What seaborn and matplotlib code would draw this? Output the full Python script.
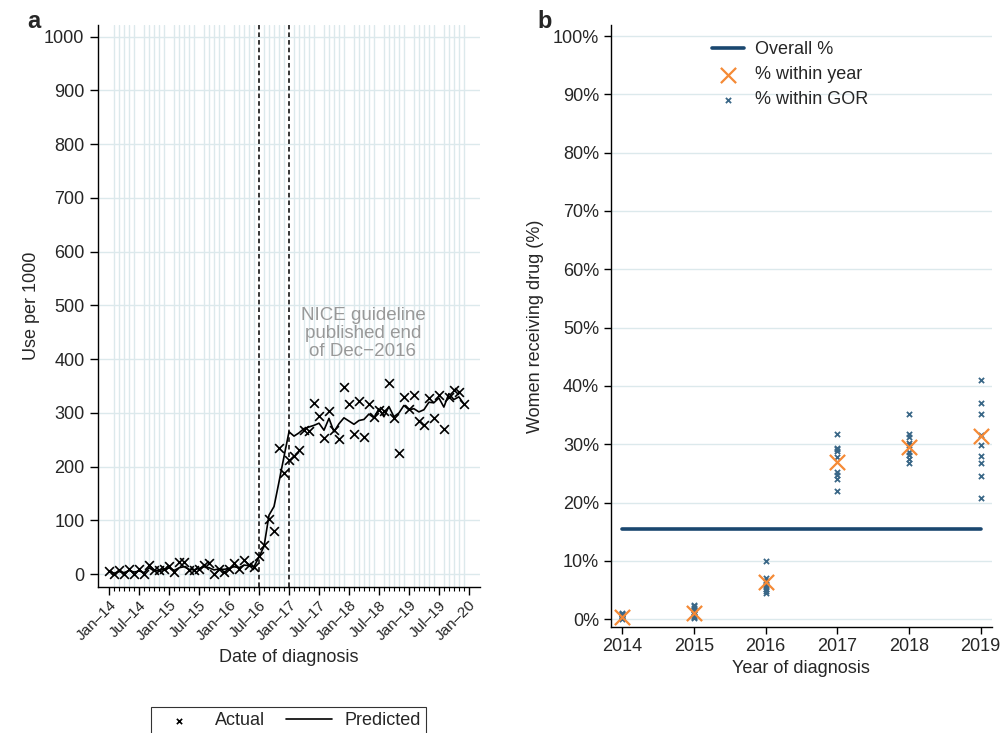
import numpy as np
import pandas as pd
import matplotlib
matplotlib.use("Agg")
import matplotlib.pyplot as plt
from matplotlib.ticker import MultipleLocator, FixedLocator
import seaborn as sns

# ---------------- data: panel a (monthly, Jan-14 .. Dec-19) ----------------
actual = [6, 0, 7, 0, 10, 1, 9, 0, 17, 7, 7, 10, 16, 4, 22, 22, 7, 7, 10, 18,
          21, 0, 10, 4, 10, 20, 9, 26, 18, 14,
          33, 55, 102, 81, 234, 189, 213, 220, 232, 269, 267, 318, 294, 254,
          304, 269, 252, 349, 317, 260, 322, 256, 317, 293, 306, 304, 356,
          290, 226, 330, 308, 333, 285, 277, 327, 291, 333, 271, 330, 343,
          339, 317]
predicted = [5, 2, 5, 3, 7, 4, 6, 3, 12, 6, 7, 9, 12, 7, 12, 14, 9, 8, 11, 14,
             12, 8, 10, 9, 11, 14, 12, 17, 16, 14,
             32, 52, 110, 126, 172, 219, 265, 257, 263, 271, 274, 277, 281,
             268, 290, 265, 280, 291, 285, 279, 286, 288, 298, 291, 308, 293,
             312, 293, 300, 314, 306, 308, 302, 306, 320, 319, 328, 311, 336,
             325, 330, 317]
month_labels = ["Jan\u201314", "Jul\u201314", "Jan\u201315", "Jul\u201315",
                "Jan\u201316", "Jul\u201316", "Jan\u201317", "Jul\u201317",
                "Jan\u201318", "Jul\u201318", "Jan\u201319", "Jul\u201319",
                "Jan\u201320"]
guideline_months = [30, 36]

# ---------------- data: panel b (yearly) ----------------
years = [2014, 2015, 2016, 2017, 2018, 2019]
overall_pct = 15.5
within_year = [0.4, 1.0, 6.3, 26.9, 29.6, 31.4]
gor_2014 = [0.0, 0.2, 0.3, 0.4, 0.5, 0.6, 0.8, 0.9, 1.0]
gor_2015 = [0.2, 0.4, 0.6, 0.9, 1.2, 1.5, 1.9, 2.2, 2.5]
gor_2016 = [4.5, 4.8, 5.2, 5.6, 6.1, 6.4, 6.6, 7.0, 10.0]
gor_2017 = [22.0, 24.1, 24.7, 25.2, 27.8, 28.8, 29.1, 29.4, 31.7]
gor_2018 = [26.7, 27.4, 28.1, 28.6, 29.8, 30.2, 31.25, 31.8, 35.1]
gor_2019 = [20.8, 24.5, 26.7, 28.0, 29.8, 31.5, 35.2, 37.0, 41.0]

sns.set_theme(style="white")
plt.rcParams['font.family'] = ['Liberation Sans', 'DejaVu Sans']

GRID = "#dce9ec"
NAVY = "#1a476f"
GORC = "#3a6787"
ORANGE = "#f58a36"
FS = 13

fig = plt.figure(figsize=(10.03, 7.33), dpi=100)
ax1 = fig.add_axes([0.0974, 0.199, 0.381, 0.767])
ax2 = fig.add_axes([0.609, 0.145, 0.380, 0.821])

# ---------------- panel a ----------------
df_a = pd.DataFrame({"month": np.arange(len(actual)), "actual": actual,
                     "predicted": predicted})
sns.scatterplot(data=df_a, x="month", y="actual", marker="x", color="black",
                s=40, linewidth=1.2, ax=ax1, label="Actual", zorder=4)
sns.lineplot(data=df_a, x="month", y="predicted", color="black", lw=1.2,
             ax=ax1, label="Predicted", zorder=3)
for m in guideline_months:
    ax1.axvline(m, color="black", ls=(0, (3, 2)), lw=1.1, zorder=2)

ax1.set_xlim(-2.3, 74.2)
ax1.set_ylim(-24, 1022)
ax1.xaxis.set_major_locator(FixedLocator(np.arange(0, 73, 6)))
ax1.xaxis.set_minor_locator(FixedLocator(np.arange(0, 73, 1)))
ax1.set_xticklabels(month_labels, rotation=45, ha="right",
                    rotation_mode="anchor", fontsize=11)
ax1.yaxis.set_major_locator(MultipleLocator(100))
ax1.tick_params(axis="y", labelsize=FS, length=6, width=1, left=True, color="black")
ax1.tick_params(axis="x", which="major", length=6, width=1, bottom=True,
                color="black", pad=2)
ax1.tick_params(axis="x", which="minor", length=3, width=0.8, bottom=True, color="black")
ax1.grid(True, axis="x", which="minor", color=GRID, lw=1)
ax1.grid(True, axis="y", which="major", color=GRID, lw=1)
ax1.set_axisbelow(True)
for s in ["top", "right"]:
    ax1.spines[s].set_visible(False)
for s in ["left", "bottom"]:
    ax1.spines[s].set_color("black")
    ax1.spines[s].set_linewidth(1)
ax1.set_xlabel("Date of diagnosis", fontsize=FS, labelpad=4)
ax1.set_ylabel("Use per 1000", fontsize=FS, labelpad=3)
ax1.text(50.8, 448, "NICE guideline\npublished end\nof Dec\u22122016",
         ha="center", va="center", color="#999999", fontsize=13.5,
         linespacing=1.1)
leg1 = ax1.legend(loc="upper center", bbox_to_anchor=(0.5, -0.197), ncol=2,
                  frameon=True, fancybox=False, fontsize=FS,
                  handlelength=2.5, columnspacing=1.2, handletextpad=0.7,
                  borderpad=0.3, markerscale=0.6)
leg1.get_frame().set_edgecolor("black")
leg1.get_frame().set_linewidth(0.8)

# ---------------- panel b ----------------
gor_all = [gor_2014, gor_2015, gor_2016, gor_2017, gor_2018, gor_2019]
df_gor = pd.DataFrame({"year": np.repeat(years, [len(g) for g in gor_all]),
                       "pct": np.concatenate(gor_all)})
df_b = pd.DataFrame({"year": years, "within": within_year,
                     "overall": [overall_pct] * len(years)})

sns.lineplot(data=df_b, x="year", y="overall", color=NAVY, lw=2.6, ax=ax2,
             label="Overall %", zorder=2)
sns.scatterplot(data=df_b, x="year", y="within", marker="x", color=ORANGE,
                s=120, linewidth=1.6, ax=ax2, label="% within year", zorder=4)
sns.scatterplot(data=df_gor, x="year", y="pct", marker="x", color=GORC,
                s=14, linewidth=1.3, ax=ax2, label="% within GOR", zorder=3)

ax2.set_xlim(2013.84, 2019.16)
ax2.set_ylim(-1.3, 101.9)
ax2.set_xticks(years)
ax2.set_xticklabels([str(y) for y in years], fontsize=FS)
ax2.set_yticks(np.arange(0, 101, 10))
ax2.set_yticklabels([f"{v}%" for v in range(0, 101, 10)], fontsize=FS)
ax2.tick_params(axis="both", length=5, width=1, left=True, bottom=True, color="black")
ax2.tick_params(axis="x", pad=3)
ax2.grid(True, axis="y", color=GRID, lw=1)
ax2.set_axisbelow(True)
for s in ["top", "right"]:
    ax2.spines[s].set_visible(False)
for s in ["left", "bottom"]:
    ax2.spines[s].set_color("black")
    ax2.spines[s].set_linewidth(1)
ax2.set_xlabel("Year of diagnosis", fontsize=FS, labelpad=4)
ax2.set_ylabel("Women receiving drug (%)", fontsize=FS, labelpad=6)
ax2.legend(loc="upper center", bbox_to_anchor=(0.47, 1.0), frameon=False,
           fontsize=FS, handlelength=1.8, handletextpad=0.6, labelspacing=0.45)

fig.text(0.027, 0.962, "a", fontsize=17, fontweight="bold", va="baseline")
fig.text(0.536, 0.962, "b", fontsize=17, fontweight="bold", va="baseline")

fig.savefig("out.png", dpi=100)
